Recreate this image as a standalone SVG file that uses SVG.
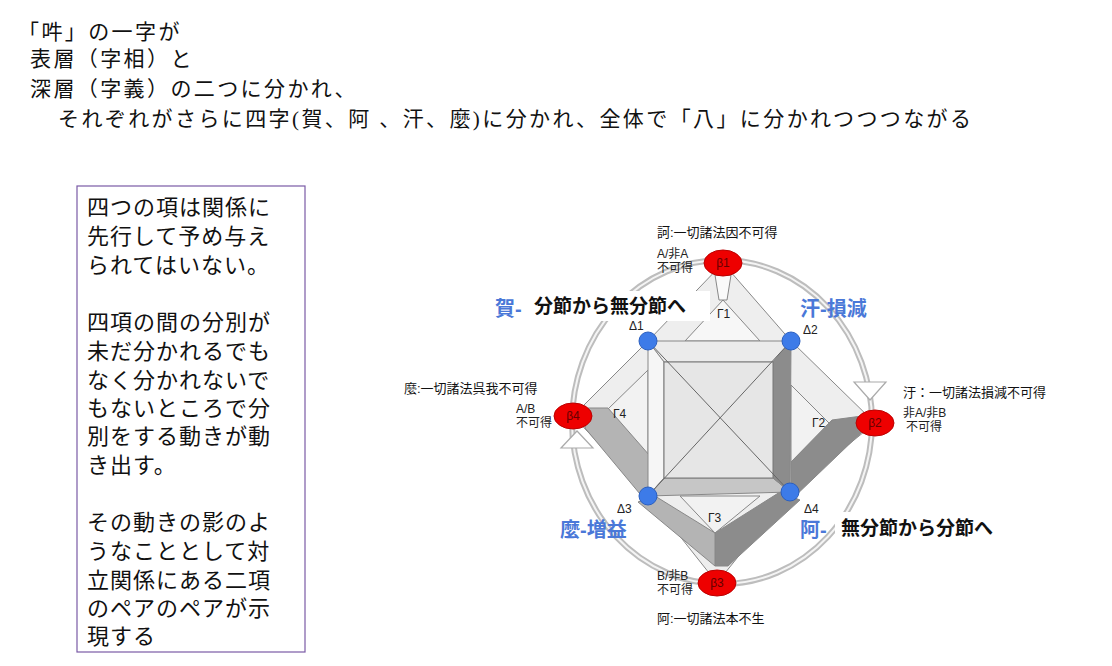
<svg xmlns="http://www.w3.org/2000/svg" width="1112" height="666" viewBox="0 0 1112 666">
<style>
.t{font-family:"Liberation Serif","Noto Sans CJK JP",serif;font-size:21px;letter-spacing:2.4px;fill:#111}
.b{font-family:"Liberation Serif","Noto Sans CJK JP",serif;font-size:22px;letter-spacing:1px;fill:#111}
.s{font-family:"Liberation Sans","Noto Sans CJK JP",sans-serif;font-size:12px;fill:#222}
.m{font-family:"Liberation Sans","Noto Sans CJK JP",sans-serif;font-size:13px;fill:#111}
.bl{font-family:"Liberation Sans","Noto Sans CJK JP",sans-serif;font-size:20px;font-weight:bold;fill:#4a78d8}
.k{font-family:"Liberation Sans","Noto Sans CJK JP",sans-serif;font-size:19px;font-weight:bold;fill:#111}
.ln{stroke:#888;stroke-width:1}
.beta{fill:#ee0000;stroke:#b00;stroke-width:1}
.bt{font-family:"Liberation Sans",sans-serif;font-size:12px;fill:#600}
.delta{fill:#3d7be8;stroke:#2a5fc0;stroke-width:1}
.arr{fill:#fff;stroke:#aaa;stroke-width:1.2}
</style>
<rect width="1112" height="666" fill="#fff"/>
<g id="title">
<text class="t" x="18" y="39">「吽」の一字が</text>
<text class="t" x="30" y="66">表層（字相）と</text>
<text class="t" x="30" y="96">深層（字義）の二つに分かれ、</text>
<text class="t" x="58" y="126">それぞれがさらに四字(賀、阿 、汗、麼)に分かれ、全体で「八」に分かれつつつながる</text>
</g>
<g id="textbox">
<rect x="77" y="186" width="228" height="466" fill="#fff" stroke="#7a5aa6" stroke-width="1.2"/>
<text class="b" x="87" y="215">四つの項は関係に</text>
<text class="b" x="87" y="244">先行して予め与え</text>
<text class="b" x="87" y="273">られてはいない。</text>
<text class="b" x="87" y="330">四項の間の分別が</text>
<text class="b" x="87" y="359">未だ分かれるでも</text>
<text class="b" x="87" y="388">なく分かれないで</text>
<text class="b" x="87" y="416">もないところで分</text>
<text class="b" x="87" y="444">別をする動きが動</text>
<text class="b" x="87" y="473">き出す。</text>
<text class="b" x="87" y="530">その動きの影のよ</text>
<text class="b" x="87" y="559">うなこととして対</text>
<text class="b" x="87" y="588">立関係にある二項</text>
<text class="b" x="87" y="616">のペアのペアが示</text>
<text class="b" x="87" y="644">現する</text>
</g>
<g id="ring">
<ellipse cx="722" cy="422" rx="150" ry="162" fill="none" stroke="#bdbdbd" stroke-width="6"/>
<ellipse cx="722" cy="422" rx="150" ry="162" fill="none" stroke="#f4f4f4" stroke-width="2"/>
<polygon class="arr" points="854,382 886,382 870,400"/>
<polygon class="arr" points="561,448 593,448 577,431"/>
</g>
<g id="connectors">
<polygon points="723,263 791,341 875,423 790,492 717,583 648,496 573,416 648,341" fill="#eeeeee" stroke="#888"/>
<polygon points="723,300 685,341 760,341" fill="#f7f7f7" class="ln"/>
<polygon points="715,275 731,275 727,300 719,300" fill="#fafafa" class="ln"/>
<polygon points="830,424 791,385 791,462" fill="#f2f2f2" class="ln"/>
<polygon points="608,409 648,370 648,456" fill="#f2f2f2" class="ln"/>
<polygon points="715,533 680,496 760,496" fill="#f2f2f2" class="ln"/>
<polygon points="862,416 832,420 791,462 791,500 862,432" fill="#8c8c8c" class="ln"/>
<polygon points="780,492 715,533 715,566 728,566 800,500" fill="#8c8c8c" class="ln"/>
<polygon points="655,496 715,533 715,566 638,502" fill="#b4b4b4" class="ln"/>
<polygon points="588,408 608,408 650,456 650,490 640,494 585,428" fill="#b4b4b4" class="ln"/>
<polygon points="648,341 791,341 773,362 664,362" fill="#ebebeb" class="ln"/>
<polygon points="648,341 664,362 664,478 648,496" fill="#f6f6f6" class="ln"/>
<polygon points="664,478 773,478 790,492 648,496" fill="#c6c6c6" class="ln"/>
<polygon points="773,362 791,341 790,492 773,478" fill="#8c8c8c" class="ln"/>
<rect x="664" y="362" width="109" height="116" fill="#e6e6e6" stroke="#777"/>
<line x1="648" y1="341" x2="790" y2="492" stroke="#666"/>
<line x1="791" y1="341" x2="648" y2="496" stroke="#666"/>
</g>
<g id="deltas">
<circle class="delta" cx="648" cy="341" r="9"/>
<circle class="delta" cx="791" cy="341" r="9"/>
<circle class="delta" cx="648" cy="496" r="9"/>
<circle class="delta" cx="790" cy="492" r="9"/>
</g>
<g id="b1"><ellipse class="beta" cx="723" cy="263" rx="19" ry="13"/><text class="bt" x="723" y="267" text-anchor="middle">β1</text></g>
<g id="b2"><ellipse class="beta" cx="875" cy="423" rx="19" ry="13"/><text class="bt" x="875" y="427" text-anchor="middle">β2</text></g>
<g id="b3"><ellipse class="beta" cx="717" cy="583" rx="19" ry="13"/><text class="bt" x="717" y="587" text-anchor="middle">β3</text></g>
<g id="b4"><ellipse class="beta" cx="573" cy="416" rx="19" ry="13"/><text class="bt" x="573" y="420" text-anchor="middle">β4</text></g>
<g id="labels">
<text class="m" x="657" y="237">訶:一切諸法因不可得</text>
<text class="s" x="657" y="258">A/非A</text><text class="s" x="657" y="272">不可得</text>
<text class="s" x="717" y="318">Γ1</text>
<text class="s" x="629" y="330">Δ1</text>
<text class="s" x="803" y="334">Δ2</text>
<text class="m" x="903" y="397">汙：一切諸法損減不可得</text>
<text class="s" x="903" y="417">非A/非B</text><text class="s" x="906" y="431">不可得</text>
<text class="s" x="812" y="427">Γ2</text>
<text class="m" x="404" y="393">麼:一切諸法呉我不可得</text>
<text class="s" x="516" y="413">A/B</text><text class="s" x="516" y="427">不可得</text>
<text class="s" x="613" y="418">Γ4</text>
<text class="s" x="617" y="513">Δ3</text>
<text class="s" x="708" y="522">Γ3</text>
<text class="s" x="804" y="513">Δ4</text>
<text class="s" x="657" y="580">B/非B</text><text class="s" x="657" y="594">不可得</text>
<text class="m" x="657" y="623">阿:一切諸法本不生</text>
<rect x="528" y="291" width="182" height="30" fill="#fff"/>
<text class="bl" x="495" y="316">賀-</text>
<text class="k" x="534" y="313">分節から無分節へ</text>
<text class="bl" x="800" y="316">汗-損減</text>
<rect x="835" y="512" width="175" height="32" fill="#fff"/>
<text class="bl" x="800" y="537">阿-</text>
<text class="k" x="841" y="535">無分節から分節へ</text>
<text class="bl" x="560" y="537">麼-増益</text>
</g>
</svg>
